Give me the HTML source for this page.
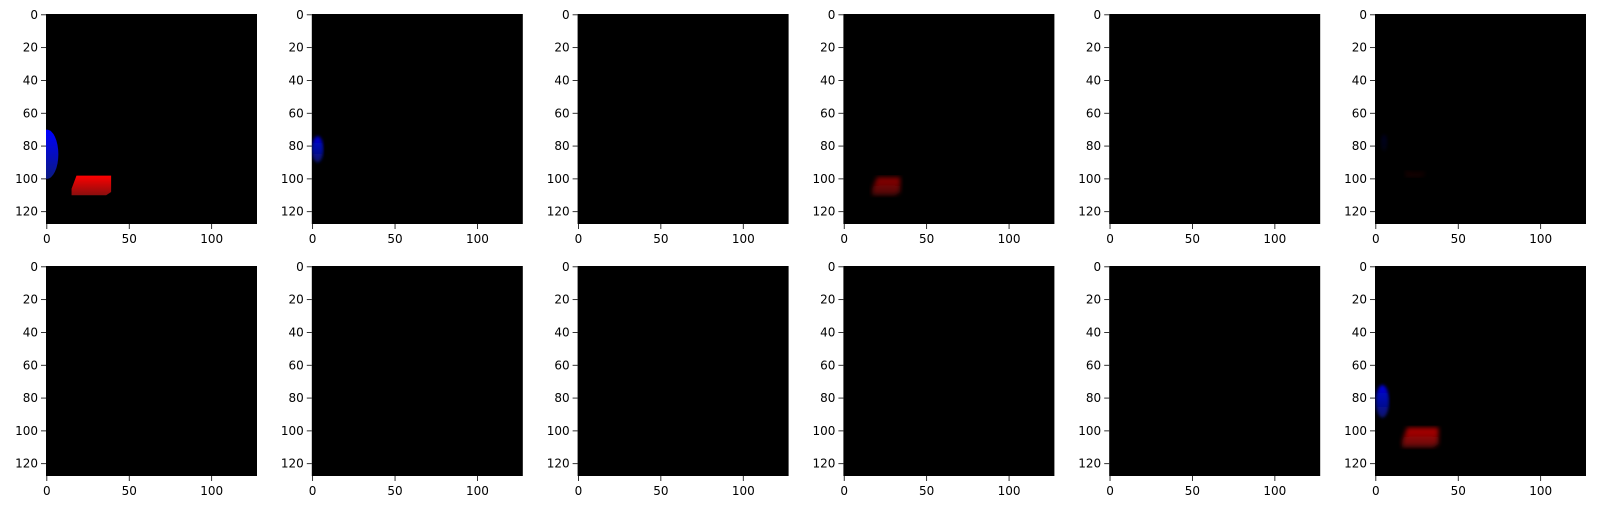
<!DOCTYPE html>
<html><head><meta charset="utf-8"><style>
html,body{margin:0;padding:0;background:#fff;}
svg{display:block;font-family:"DejaVu Sans","Liberation Sans",sans-serif;}
</style></head><body>
<svg id="chart" width="1598" height="510" viewBox="0 0 1598 510" xmlns="http://www.w3.org/2000/svg">
<defs>
<filter id="blur1"><feGaussianBlur stdDeviation="1.6"/></filter>
<filter id="blur2"><feGaussianBlur stdDeviation="2.5"/></filter>
<linearGradient id="redG" x1="0" y1="0" x2="0" y2="1"><stop offset="0" stop-color="#ff0000"/><stop offset="1" stop-color="#8a0e0e"/></linearGradient>
<linearGradient id="blueG" x1="0" y1="0" x2="0" y2="1"><stop offset="0" stop-color="#0000ff"/><stop offset="1" stop-color="#0a1a80"/></linearGradient>
</defs>
</svg>
<script>
// image grid data (pixel units of 128x128 images)
const imageSize = 128;
const xTicks = [0, 50, 100];
const yTicks = [0, 20, 40, 60, 80, 100, 120];
// blobs per panel: [panelIndex, type, cx, cy, rx, ry, opacity, blurry]
const blueBlobs = [[0, 0, 85, 7, 15, 1, 0], [1, 3, 82, 3.5, 8, 0.85, 1], [11, 4, 82, 4, 10, 0.85, 1], [5, 5, 78, 2, 5, 0.12, 1]];
const redBlobs = [[0, 15, 98, 39, 110, 1, 0], [3, 17, 99, 34, 110, 0.55, 1], [11, 16, 98, 38, 110, 0.7, 1], [5, 18, 96, 30, 99, 0.12, 1]];

const svg = document.getElementById('chart');
const NS = 'http://www.w3.org/2000/svg';
const cols = 6, rows = 2;
const x0 = 46, y0 = 14, pw = 211, ph = 210, dx = 265.8, dy = 252;
function mk(tag, attrs){const e=document.createElementNS(NS,tag);for(const k in attrs)e.setAttribute(k,attrs[k]);return e;}
function sx(p, v){return x0 + (p%cols)*dx + (v+0.5)*pw/imageSize;}
function sy(p, v){return y0 + Math.floor(p/cols)*dy + (v+0.5)*ph/imageSize;}

const panels = [];
for(let p=0;p<cols*rows;p++){
  const g = mk('g',{});
  
  
  const L = x0 + (p%cols)*dx, T = y0 + Math.floor(p/cols)*dy;
  const bg = mk('rect',{x:L,y:T,width:pw,height:ph,fill:'#000'});
  
  
  g.appendChild(bg);
  const clip = mk('clipPath',{id:'c'+p}); clip.appendChild(mk('rect',{x:L,y:T,width:pw,height:ph}));
  svg.querySelector('defs').appendChild(clip);
  const content = mk('g',{'clip-path':'url(#c'+p+')'});
  g.appendChild(content);
  panels.push(content);
  // ticks
  yTicks.forEach(t=>{
    const y = sy(p,t);
    g.appendChild(mk('line',{x1:L-5,x2:L,y1:y,y2:y,stroke:'#000','stroke-width':0.8}));
    const tx = mk('text',{x:L-8,y:y+4,'font-size':12,'text-anchor':'end',fill:'#000'});
    
    
    tx.textContent = t; g.appendChild(tx);
  });
  xTicks.forEach(t=>{
    const x = sx(p,t);
    g.appendChild(mk('line',{x1:x,x2:x,y1:T+ph,y2:T+ph+5,stroke:'#000','stroke-width':0.8}));
    const tx = mk('text',{x:x,y:T+ph+19,'font-size':12,'text-anchor':'middle',fill:'#000'});
    
    
    tx.textContent = t; g.appendChild(tx);
  });
  svg.appendChild(g);
}
blueBlobs.forEach(b=>{
  const [p,cx,cy,rx,ry,op,bl] = b;
  const e = mk('ellipse',{cx:sx(p,cx),cy:sy(p,cy),rx:rx*pw/imageSize,ry:ry*ph/imageSize,fill:'url(#blueG)',opacity:op});
  if(bl) e.setAttribute('filter','url(#blur1)');
  
  
  panels[p].appendChild(e);
});
redBlobs.forEach(b=>{
  const [p,xa,ya,xb,yb,op,bl] = b;
  const k = 3;
  const pts = [[xa+k,ya],[xb,ya],[xb,yb-2],[xb-k,yb],[xa,yb],[xa,yb-4]].map(q=>sx(p,q[0])+','+sy(p,q[1])).join(' ');
  const e = mk('polygon',{points:pts,fill:'url(#redG)',opacity:op});
  if(bl) e.setAttribute('filter','url(#blur2)');
  
  
  panels[p].appendChild(e);
});
</script>
</body></html>
